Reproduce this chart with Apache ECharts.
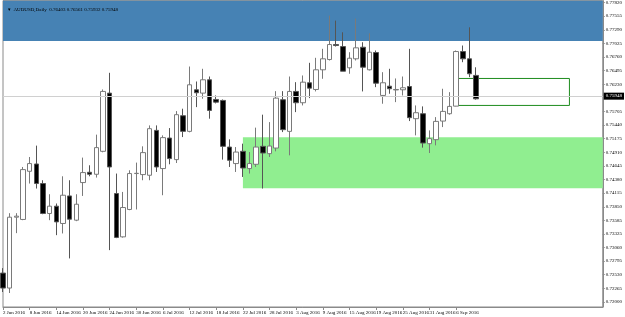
<!DOCTYPE html>
<html>
<head>
<meta charset="utf-8">
<script src="https://cdn.jsdelivr.net/npm/echarts@6/dist/echarts.min.js"></script>
<style>
  html, body { margin: 0; padding: 0; background: #fff; }
  #chart { width: 625px; height: 317px; }
</style>
</head>
<body>
<div id="chart"></div>
<script>
// daily bars, AUDUSD
const dates = [
  '2 Jun 2016', '3 Jun 2016', '6 Jun 2016', '7 Jun 2016', '8 Jun 2016', '9 Jun 2016', '10 Jun 2016',
  '13 Jun 2016', '14 Jun 2016', '15 Jun 2016', '16 Jun 2016', '17 Jun 2016', '20 Jun 2016', '21 Jun 2016',
  '22 Jun 2016', '23 Jun 2016', '24 Jun 2016', '27 Jun 2016', '28 Jun 2016', '29 Jun 2016', '30 Jun 2016',
  '1 Jul 2016', '4 Jul 2016', '5 Jul 2016', '6 Jul 2016', '7 Jul 2016', '8 Jul 2016', '11 Jul 2016',
  '12 Jul 2016', '13 Jul 2016', '14 Jul 2016', '15 Jul 2016', '18 Jul 2016', '19 Jul 2016', '20 Jul 2016',
  '21 Jul 2016', '22 Jul 2016', '25 Jul 2016', '26 Jul 2016', '27 Jul 2016', '28 Jul 2016', '29 Jul 2016',
  '1 Aug 2016', '2 Aug 2016', '3 Aug 2016', '4 Aug 2016', '5 Aug 2016', '8 Aug 2016', '9 Aug 2016',
  '10 Aug 2016', '11 Aug 2016', '12 Aug 2016', '15 Aug 2016', '16 Aug 2016', '17 Aug 2016', '18 Aug 2016',
  '19 Aug 2016', '22 Aug 2016', '23 Aug 2016', '24 Aug 2016', '25 Aug 2016', '26 Aug 2016', '29 Aug 2016',
  '30 Aug 2016', '31 Aug 2016', '1 Sep 2016', '2 Sep 2016', '5 Sep 2016', '6 Sep 2016', '7 Sep 2016',
  '8 Sep 2016', '9 Sep 2016'
];
const opens = [
  0.72562, 0.72271, 0.73648, 0.73604, 0.74540, 0.74682, 0.74302, 0.73720, 0.73862, 0.73526, 0.74061, 0.73590,
  0.74321, 0.74521, 0.74482, 0.74928, 0.76059, 0.74108, 0.73266, 0.73798, 0.74496, 0.74476, 0.74463, 0.75335,
  0.74593, 0.75186, 0.74767, 0.75620, 0.75316, 0.76124, 0.76059, 0.76318, 0.75936, 0.75917, 0.75011, 0.74690,
  0.74928, 0.74593, 0.74676, 0.75025, 0.74883, 0.74992, 0.75931, 0.75316, 0.76092, 0.75872, 0.76260, 0.76130,
  0.76512, 0.76712, 0.77003, 0.76964, 0.76551, 0.76726, 0.76951, 0.76512, 0.76848, 0.76014, 0.76194, 0.76121,
  0.76124, 0.76188, 0.75562, 0.75659, 0.75077, 0.75155, 0.75516, 0.75659, 0.75806, 0.76867, 0.76726, 0.76403
];
const closes = [
  0.72271, 0.73648, 0.73668, 0.74573, 0.74690, 0.74302, 0.73720, 0.73862, 0.73557, 0.74075, 0.73609, 0.73900,
  0.74515, 0.74482, 0.75000, 0.76092, 0.74624, 0.73255, 0.73836, 0.74496, 0.74501, 0.74903, 0.75368, 0.74624,
  0.75194, 0.74787, 0.75640, 0.75316, 0.76221, 0.76066, 0.76318, 0.75723, 0.75884, 0.75025, 0.74754, 0.74914,
  0.74604, 0.74690, 0.75011, 0.74895, 0.75031, 0.75962, 0.75349, 0.76092, 0.75872, 0.76272, 0.76156, 0.76512,
  0.76726, 0.77003, 0.76984, 0.76485, 0.76737, 0.76939, 0.76563, 0.76854, 0.76252, 0.76260, 0.76144, 0.76130,
  0.76163, 0.75582, 0.75678, 0.75089, 0.75174, 0.75510, 0.75704, 0.75801, 0.76867, 0.76726, 0.76435, 0.75948
];
const lows = [
  0.72194, 0.72175, 0.73338, 0.73590, 0.74302, 0.74205, 0.73706, 0.73590, 0.73299, 0.73332, 0.72847, 0.73571,
  0.74061, 0.74443, 0.74418, 0.74909, 0.73008, 0.73241, 0.73251, 0.73784, 0.73798, 0.74366, 0.74366, 0.74527,
  0.74075, 0.74676, 0.74701, 0.75205, 0.75297, 0.75787, 0.75950, 0.75562, 0.75859, 0.74767, 0.74624, 0.74527,
  0.74430, 0.74496, 0.74624, 0.74205, 0.74818, 0.74928, 0.75302, 0.74850, 0.75690, 0.75820, 0.75962, 0.76092,
  0.76338, 0.76693, 0.76964, 0.76485, 0.76435, 0.76693, 0.76092, 0.76499, 0.76175, 0.75853, 0.76047, 0.75884,
  0.76014, 0.75516, 0.75238, 0.75000, 0.74895, 0.75044, 0.75399, 0.75640, 0.75801, 0.76660, 0.76369, 0.75932
];
const highs = [
  0.72659, 0.73726, 0.73726, 0.74624, 0.74818, 0.75039, 0.74366, 0.74094, 0.73914, 0.74443, 0.74366, 0.74094,
  0.74806, 0.74657, 0.75252, 0.76130, 0.76454, 0.74496, 0.74139, 0.74560, 0.74709, 0.75025, 0.75432, 0.75432,
  0.75238, 0.75380, 0.75710, 0.75756, 0.76576, 0.76285, 0.76532, 0.76382, 0.76014, 0.75936, 0.75161, 0.75011,
  0.75077, 0.74914, 0.75388, 0.75640, 0.75496, 0.76097, 0.76097, 0.76382, 0.76272, 0.76402, 0.76648, 0.76745,
  0.76920, 0.77565, 0.77468, 0.77241, 0.76854, 0.77507, 0.77048, 0.77222, 0.76887, 0.76466, 0.76532, 0.76344,
  0.76382, 0.76920, 0.75820, 0.75801, 0.75335, 0.75593, 0.76144, 0.76078, 0.76887, 0.76984, 0.77338, 0.76561
];
const priceTicks = [
  '0.72000', '0.72265', '0.72530', '0.72795', '0.73060', '0.73325', '0.73585', '0.73850', '0.74115', '0.74380',
  '0.74645', '0.74910', '0.75175', '0.75440', '0.75705', '0.76230', '0.76495', '0.76760', '0.77025', '0.77290',
  '0.77555', '0.77820'
];
const lastPrice = 0.75948;
const header = 'AUDUSD,Daily  0.76403 0.76561 0.75932 0.75948';

// empty slots on the right of the last bar
const slots = 91;
const categories = dates.concat(Array.from({ length: slots - dates.length }, (_, k) => 'f' + k));
const ohlc = dates.map((d, i) => [opens[i], closes[i], lows[i], highs[i]]);
const lastLabel = dates.length - 4; // 6 Sep
const showDate = (idx) => idx % 4 === 0 && idx <= lastLabel;
// one extra blank label after 6 Sep so the axis does not treat 6 Sep as its max label
const labelSlot = (idx) => idx % 4 === 0 && idx <= lastLabel + 4;
const smallFont = 'Liberation Sans Narrow';

const chart = echarts.init(document.getElementById('chart'));
chart.setOption({
  animation: false,
  backgroundColor: '#fff',
  title: {
    text: '▾  ' + header,
    left: 3,
    top: 2,
    textStyle: { fontSize: 5, fontWeight: 'normal', color: '#000', fontFamily: smallFont }
  },
  grid: {
    left: 0, right: 19, top: 0, bottom: 10,
    show: true, borderColor: '#8a8a8a', borderWidth: 1, backgroundColor: '#fff'
  },
  xAxis: {
    type: 'category',
    data: categories,
    boundaryGap: false,
    axisLine: { show: true, lineStyle: { color: '#8a8a8a' } },
    axisTick: {
      show: true, length: 3, lineStyle: { color: '#8a8a8a' },
      interval: showDate
    },
    axisLabel: {
      fontSize: 5, color: '#000', margin: 3, align: 'left',
      fontFamily: smallFont,
      interval: labelSlot,
      formatter: (v, idx) => (idx <= lastLabel ? v : ''),
      showMinLabel: true,
      showMaxLabel: false,
      hideOverlap: false
    },
    splitLine: { show: false }
  },
  yAxis: {
    type: 'value',
    position: 'right',
    min: 0.71903,
    max: 0.77856,
    axisLine: { show: true, lineStyle: { color: '#8a8a8a' } },
    axisTick: {
      show: true, length: 2, lineStyle: { color: '#8a8a8a' },
      customValues: priceTicks.map(Number)
    },
    axisLabel: {
      fontSize: 5, color: '#000', margin: 3, fontFamily: smallFont,
      customValues: priceTicks.slice(1).map(Number),
      showMinLabel: true,
      showMaxLabel: true,
      hideOverlap: false,
      formatter: (v) => v.toFixed(5)
    },
    splitLine: { show: false }
  },
  series: [{
    type: 'candlestick',
    data: ohlc,
    barWidth: 5,
    itemStyle: {
      color: '#ffffff',
      color0: '#000000',
      borderColor: '#7a7a7a',
      borderColor0: '#555555',
      borderWidth: 1
    },
    markArea: {
      silent: true,
      data: [
        [{ yAxis: 0.77072, itemStyle: { color: '#4682b4' } }, { yAxis: 0.77856 }],
        [{ xAxis: 36, yAxis: 0.75200, itemStyle: { color: '#90ee90' } }, { xAxis: slots - 1, yAxis: 0.74211 }],
        [{ xAxis: 68, yAxis: 0.76344, itemStyle: { color: 'rgba(0,0,0,0)', borderColor: '#1e8c1e', borderWidth: 1 } },
         { xAxis: 85, yAxis: 0.75820 }]
      ]
    },
    markLine: {
      silent: true,
      symbol: ['none', 'none'],
      lineStyle: { color: '#d0d0d0', type: 'solid', width: 1 },
      label: {
        position: 'end', distance: 1,
        formatter: lastPrice.toFixed(5),
        backgroundColor: '#000', color: '#fff', fontSize: 5,
        padding: [1, 2, 1, 2], fontFamily: smallFont
      },
      data: [{ yAxis: lastPrice }]
    }
  }]
});

// the axis drops its bottom label next to the x axis labels, so place it
// with the axis scale as a plain graphic text
const axisX = chart.convertToPixel({ xAxisIndex: 0 }, categories[slots - 1]);
const bottomY = chart.convertToPixel({ yAxisIndex: 0 }, Number(priceTicks[0]));
chart.setOption({
  graphic: [{
    type: 'text',
    silent: true,
    x: axisX + 3,
    y: bottomY,
    style: {
      text: priceTicks[0],
      fill: '#000',
      font: '5px "' + smallFont + '"',
      align: 'left',
      verticalAlign: 'middle'
    }
  }]
});
</script>
</body>
</html>
